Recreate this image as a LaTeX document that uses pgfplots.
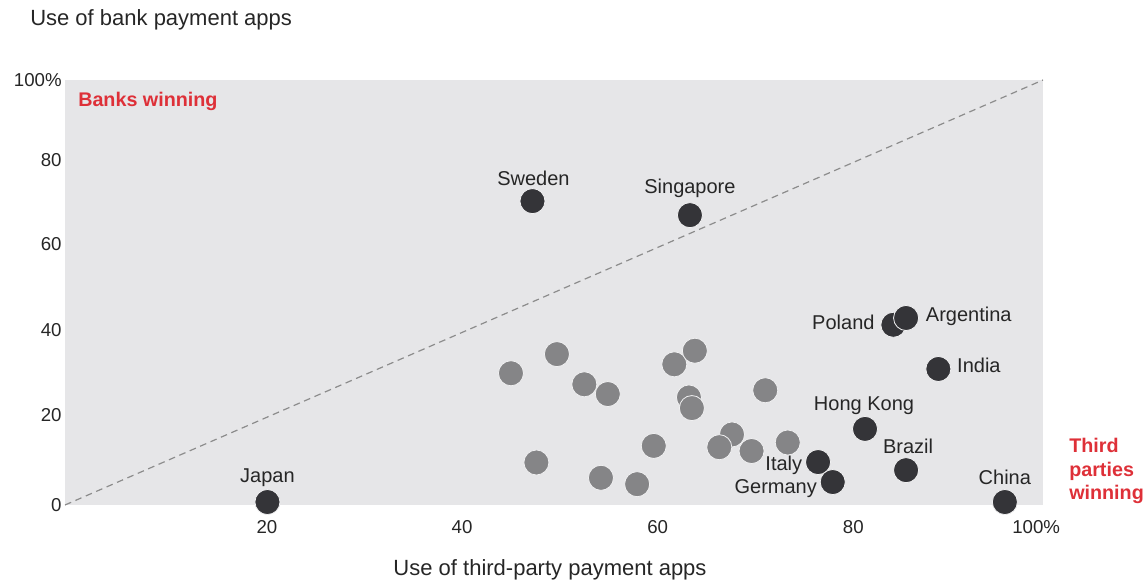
\documentclass[border=0pt]{standalone}
\usepackage{fontspec}
\setmainfont{Liberation Sans}
\usepackage{pgfplots}
\pgfplotsset{compat=1.18}

\definecolor{bgpanel}{RGB}{230,230,232}
\definecolor{darkdot}{RGB}{52,52,56}
\definecolor{greydot}{RGB}{133,133,135}
\definecolor{txt}{RGB}{38,38,38}
\definecolor{redlabel}{RGB}{222,48,56}
\definecolor{dashgray}{RGB}{140,140,140}

\begin{document}
\begin{tikzpicture}
    \begin{axis}[
            scale only axis,
            width=733.5pt,
            height=318.75pt,
            xmin=0, xmax=100,
            ymin=0, ymax=100,
            axis background/.style={fill=bgpanel},
            axis line style={draw=none},
            tick style={draw=none},
            % label positions as they sit in the source figure
            xtick={20.65,40.6,60.6,80.6,99.3},
            xticklabels={20,40,60,80,100\%},
            ytick={0,21.2,41.2,61.4,81.2,100},
            yticklabels={0,20,40,60,80,100\%},
            /pgf/number format/assume math mode=true,
            tick label style={font=\fontsize{14}{16}\selectfont, text=txt},
            x tick label style={yshift=-8pt},
            y tick label style={xshift=1pt},
            clip=false,
        ]
        % diagonal reference
        \addplot [dashgray, line width=0.9pt, dash pattern=on 5pt off 3.5pt]
        coordinates {(0,0) (100,100)};

        % other markets
        \addplot [only marks, mark=*, mark size=9.4pt,
            mark options={fill=greydot, draw=bgpanel!60!white, line width=0.6pt}]
        table {%
                x y
                45.6 31.0
                50.3 35.5
                53.1 28.4
                55.5 26.1
                48.2 10.0
                54.8 6.4
                58.5 4.9
                60.2 13.9
                62.3 33.1
                64.4 36.3
                63.8 25.3
                64.1 22.8
                68.2 16.6
                66.9 13.6
                70.2 12.7
                71.6 27.0
                73.9 14.7
            };

        % labelled markets
        \addplot [only marks, mark=*, mark size=9.4pt,
            mark options={fill=darkdot, draw=bgpanel!60!white, line width=0.6pt}]
        table {%
                x y
                20.7 0.7
                47.8 71.5
                63.9 68.2
                84.7 42.4
                86.0 44.0
                89.3 32.0
                81.8 17.9
                77.0 10.1
                78.5 5.4
                86.0 8.2
                96.1 0.7
            };

        \begin{scope}[every node/.style={font=\fontsize{15}{17}\selectfont, text=txt,
                    text height=0.72em, text depth=0.2em, inner sep=0pt, yshift=-1.5pt}]
            \node at (axis cs:20.7,6.6) {Japan};
            \node at (axis cs:47.9,76.5) {Sweden};
            \node at (axis cs:63.9,74.6) {Singapore};
            \node[anchor=east] at (axis cs:82.8,42.6) {Poland};
            \node[anchor=west] at (axis cs:88.0,44.5) {Argentina};
            \node[anchor=west] at (axis cs:91.2,32.5) {India};
            \node at (axis cs:81.7,23.5) {Hong Kong};
            \node at (axis cs:86.2,13.4) {Brazil};
            \node[anchor=east] at (axis cs:75.4,9.4) {Italy};
            \node[anchor=east] at (axis cs:76.9,4.0) {Germany};
            \node at (axis cs:96.1,6.1) {China};
        \end{scope}
    \end{axis}

    % pixel frame of the reference: (0,0) top left, 1 px = 0.75 pt
    \begin{scope}[x=0.75pt, y=-0.75pt, shift={(-48.75pt,378.75pt)}]
        \node[anchor=west, inner sep=0pt, text=txt, font=\fontsize{16.5}{19}\selectfont]
            at (30,20) {Use of bank payment apps};
        \node[inner sep=0pt, text=txt, font=\fontsize{16.5}{19}\selectfont]
            at (550,570) {Use of third-party payment apps};
        \node[anchor=west, inner sep=0pt, text=redlabel, font=\fontsize{14.8}{17}\selectfont\bfseries]
            at (78,101) {Banks winning};
        \node[anchor=west, inner sep=0pt, align=left, text=redlabel,
            font=\fontsize{14.8}{17.6}\selectfont\bfseries]
            at (1069,471) {Third\\parties\\winning};
        \pgfresetboundingbox
        \useasboundingbox (0,0) rectangle (1146,584);
    \end{scope}
\end{tikzpicture}
\end{document}
